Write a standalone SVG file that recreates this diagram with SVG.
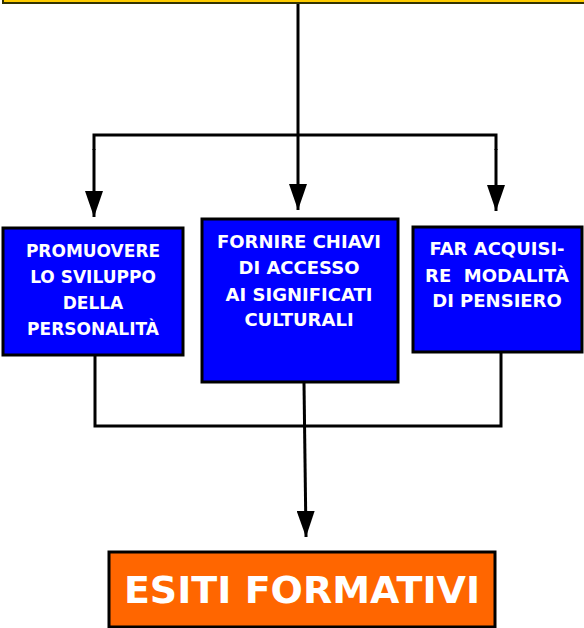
<svg xmlns="http://www.w3.org/2000/svg" width="584" height="628" viewBox="0 0 584 628">
  <style>
    .box { fill: #0000FF; stroke: #000; stroke-width: 3; }
    .t { font-family: "Comic Sans MS", "DejaVu Sans", sans-serif; font-weight: bold; fill: #fff; text-anchor: middle; }
    .ln { fill: none; stroke: #000; stroke-width: 3; }
  </style>
  <defs>
    <marker id="ah" markerUnits="userSpaceOnUse" markerWidth="26" markerHeight="18" viewBox="0 0 26 18" refX="26" refY="9" orient="auto">
      <path d="M0,0 L26,9 L0,18 Z" fill="#000"/>
    </marker>
  </defs>

  <g id="top">
    <rect x="3" y="-10" width="590" height="13" fill="#FFCC00" stroke="#333300" stroke-width="2"/>
  </g>

  <g id="connectors">
    <line class="ln" x1="298" y1="4" x2="298" y2="210" marker-end="url(#ah)"/>
    <polyline class="ln" points="94,150 94,135 496,135 496,150"/>
    <line class="ln" x1="94" y1="149" x2="94" y2="217" marker-end="url(#ah)"/>
    <line class="ln" x1="496" y1="149" x2="496" y2="211" marker-end="url(#ah)"/>
    <polyline class="ln" points="95,356 95,426 501,426 501,353"/>
    <line class="ln" x1="304" y1="383" x2="306" y2="537" marker-end="url(#ah)"/>
  </g>

  <g id="n1">
    <rect class="box" x="3" y="228" width="180" height="127"/>
    <text class="t" font-size="17" x="93" y="257">PROMUOVERE</text>
    <text class="t" font-size="17" x="93" y="283">LO SVILUPPO</text>
    <text class="t" font-size="17" x="93" y="309">DELLA</text>
    <text class="t" font-size="17" x="93" y="335">PERSONALITÀ</text>
  </g>

  <g id="n2">
    <rect class="box" x="202" y="219" width="196" height="163"/>
    <text class="t" font-size="18" x="299" y="248">FORNIRE CHIAVI</text>
    <text class="t" font-size="18" x="299" y="274">DI ACCESSO</text>
    <text class="t" font-size="18" x="299" y="301">AI SIGNIFICATI</text>
    <text class="t" font-size="18" x="299" y="326">CULTURALI</text>
  </g>

  <g id="n3">
    <rect class="box" x="413" y="227" width="169" height="125"/>
    <text class="t" font-size="18" x="497" y="255">FAR ACQUISI-</text>
    <text class="t" font-size="18" x="497" y="282" xml:space="preserve">RE  MODALITÀ</text>
    <text class="t" font-size="18" x="497" y="307">DI PENSIERO</text>
  </g>

  <g id="n4">
    <rect x="109" y="552" width="386" height="75" fill="#FF6600" stroke="#000" stroke-width="3"/>
    <text class="t" font-size="38" x="302" y="603">ESITI FORMATIVI</text>
  </g>
</svg>
